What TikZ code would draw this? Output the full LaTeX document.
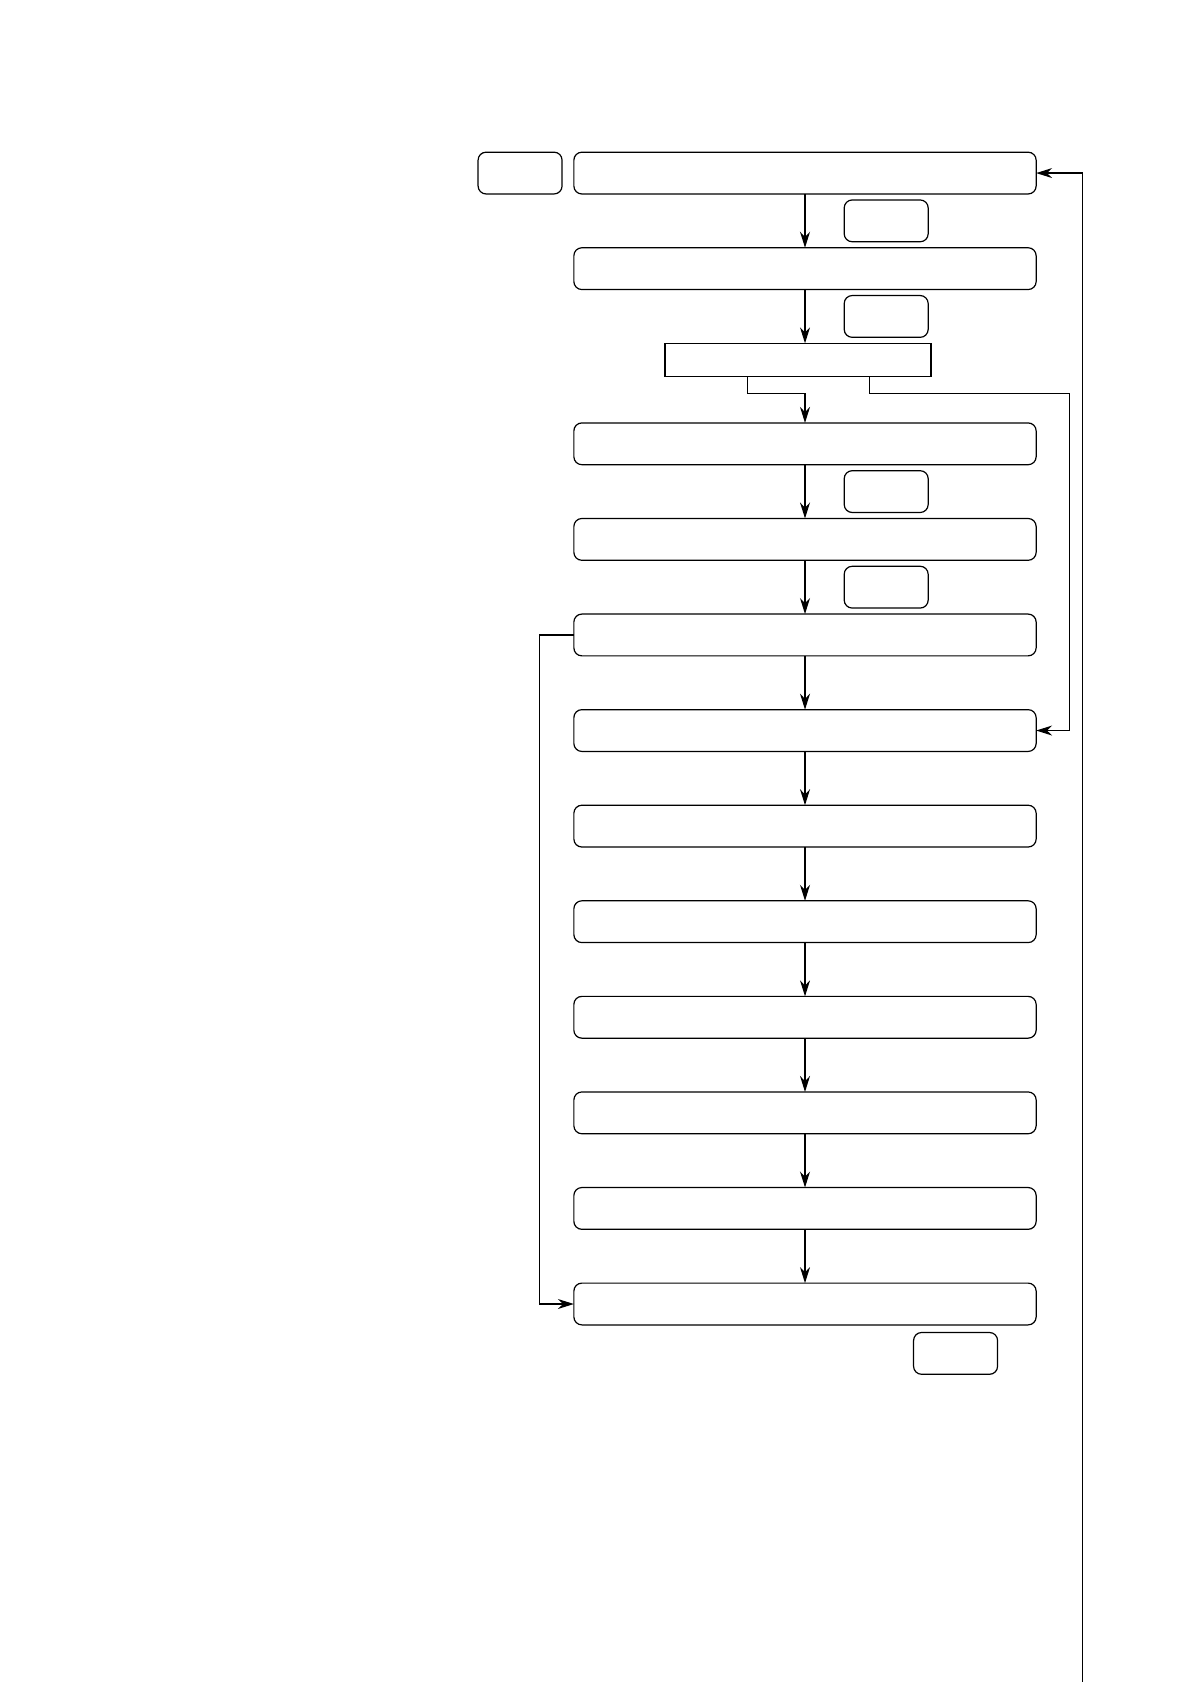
\documentclass[tikz,border=0pt]{standalone}
\usepackage{tikz}
\usetikzlibrary{matrix,arrows.meta,positioning,calc}

\begin{document}
\begin{tikzpicture}[line width=0.6pt, >={Stealth[length=8pt,width=5pt]},
	box/.style={draw, rounded corners=4pt, minimum width=231.2pt, minimum height=20.9pt, inner sep=0pt, outer sep=0pt},
	sharpbox/.style={draw, sharp corners, minimum width=133pt, minimum height=16.6pt, inner sep=0pt, outer sep=0pt},
	tag/.style={draw, rounded corners=4pt, minimum width=42pt, minimum height=20.9pt, inner sep=0pt, outer sep=0pt}]
\useasboundingbox (0,0) rectangle (595pt,-841.2pt);
\coordinate (bot) at (0,-841.2pt);
\matrix (m) [matrix of nodes, nodes in empty cells, row sep=26.3pt, nodes={box}, inner sep=0pt, outer sep=0pt, anchor=north] at (402.6pt,-75.8pt)
{
	\\
	\\
	|[sharpbox, xshift=-3.5pt]| \\[-3.7pt]
	\\
	\\
	\\
	\\
	\\
	\\
	\\
	\\
	\\
	\\
};
\node[tag, left=5.9pt of m-1-1] (a) {};
\node[tag, anchor=west] (b) at ($(m-1-1.south west)!0.5!(m-2-1.north west)+(135.2pt,0)$) {};
\node[tag, anchor=west] (c) at ($(m-2-1.south west)!0.5!(m-2-1.south west |- m-3-1.north)+(135.2pt,0)$) {};
\node[tag, anchor=west] (d) at ($(m-4-1.south west)!0.5!(m-5-1.north west)+(135.2pt,0)$) {};
\node[tag, anchor=west] (e) at ($(m-5-1.south west)!0.5!(m-6-1.north west)+(135.2pt,0)$) {};
\node[tag, anchor=north east] (f) at ($(m-13-1.south east)+(-19.3pt,-3.8pt)$) {};
\path[->]
(m-1-1) edge (m-2-1)
(m-4-1) edge (m-5-1)
(m-5-1) edge (m-6-1)
(m-6-1) edge (m-7-1)
(m-7-1) edge (m-8-1)
(m-8-1) edge (m-9-1)
(m-9-1) edge (m-10-1)
(m-10-1) edge (m-11-1)
(m-11-1) edge (m-12-1)
(m-12-1) edge (m-13-1)
;
\draw[->] (m-2-1.south) -- (m-2-1.south |- m-3-1.north);
\draw[->] ($(m-3-1.south west)!0.31!(m-3-1.south east)$) -- ++(0,-8.6pt) -| (m-4-1.north);
\draw[->] ($(m-3-1.south west)!0.77!(m-3-1.south east)$) -- ++(0,-8.6pt) -| ($(m-7-1.east)+(16.6pt,0)$) -- (m-7-1.east);
\draw[->] (m-6-1.west) -- ++(-17.2pt,0) |- (m-13-1.west);
\draw[<-] (m-1-1.east) -- ++(23.1pt,0) coordinate (rtop) -- (rtop |- bot);
\end{tikzpicture}
\end{document}
